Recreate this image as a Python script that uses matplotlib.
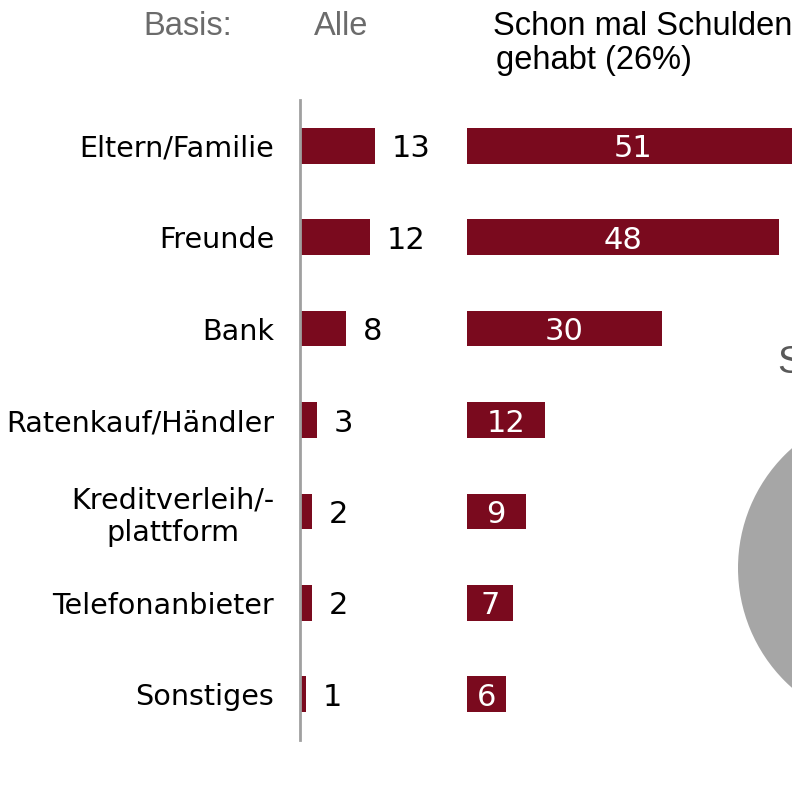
import matplotlib
matplotlib.use("Agg")
import matplotlib.pyplot as plt

categories = ["Eltern/Familie", "Freunde", "Bank", "Ratenkauf/Händler",
              "Kreditverleih/-\nplattform", "Telefonanbieter", "Sonstiges"]
alle = [13, 12, 8, 3, 2, 2, 1]
schulden = [51, 48, 30, 12, 9, 7, 6]
pie_values = [1]

BAR = "#7a0a1e"
W, H = 792, 787

plt.rcParams['font.family'] = ['DejaVu Sans']
fig = plt.figure(figsize=(W / 100, H / 100), dpi=100)

def fx(px):
    return px / W

def fy(py):
    return 1 - py / H

ypos = list(range(len(categories)))

# left panel
axL = fig.add_axes([fx(300), fy(740), 160 / W, 640 / H])
axL.barh(ypos, alle, height=0.39, color=BAR)
axL.set_xlim(0, 160 / 5.8)
axL.set_ylim(len(categories) - 0.5, -0.5)
for s in ["top", "right", "bottom"]:
    axL.spines[s].set_visible(False)
axL.spines["left"].set_color("#a0a0a0")
axL.spines["left"].set_linewidth(2)
axL.set_xticks([])
axL.set_yticks(ypos)
axL.set_yticklabels(categories, fontsize=20.6, multialignment="center")
axL.tick_params(axis="y", length=0, pad=18.7)
for i, v in enumerate(alle):
    axL.annotate(str(v), (v, i), xytext=(12, 0), textcoords="offset points",
                 ha="left", va="center_baseline", fontsize=22, color="black")

# right panel
axR = fig.add_axes([fx(467), fy(740), 340 / W, 640 / H])
axR.barh(ypos, schulden, height=0.39, color=BAR)
axR.set_xlim(0, 340 / 6.5)
axR.set_ylim(len(categories) - 0.5, -0.5)
axR.axis("off")
for i, v in enumerate(schulden):
    axR.text(v / 2, i, str(v), ha="center", va="center_baseline", fontsize=22, color="white")

# partial pie on the right
axP = fig.add_axes([fx(898 - 160), fy(568 + 160), 320 / W, 320 / H])
axP.pie(pie_values, colors=["#a6a6a6"], radius=1, startangle=90)
axP.set_xlim(-1, 1)
axP.set_ylim(-1, 1)
axP.set_aspect("equal")
axP.axis("off")

# header
hdr = dict(family=["Liberation Sans", "DejaVu Sans"], fontsize=23.5, va="baseline")
fig.text(fx(143), fy(35), "Basis:", color="#6b6b6b", **hdr)
fig.text(fx(314), fy(35), "Alle", color="#6b6b6b", **hdr)
fig.text(fx(493), fy(35), "Schon mal Schulden", color="black", **hdr)
fig.text(fx(496), fy(69), "gehabt (26%)", color="black", **hdr)
fig.text(fx(777), fy(373), "S", color="#595959", family=["Liberation Sans", "DejaVu Sans"],
         fontsize=28, va="baseline")

fig.savefig("out.png", dpi=100)
